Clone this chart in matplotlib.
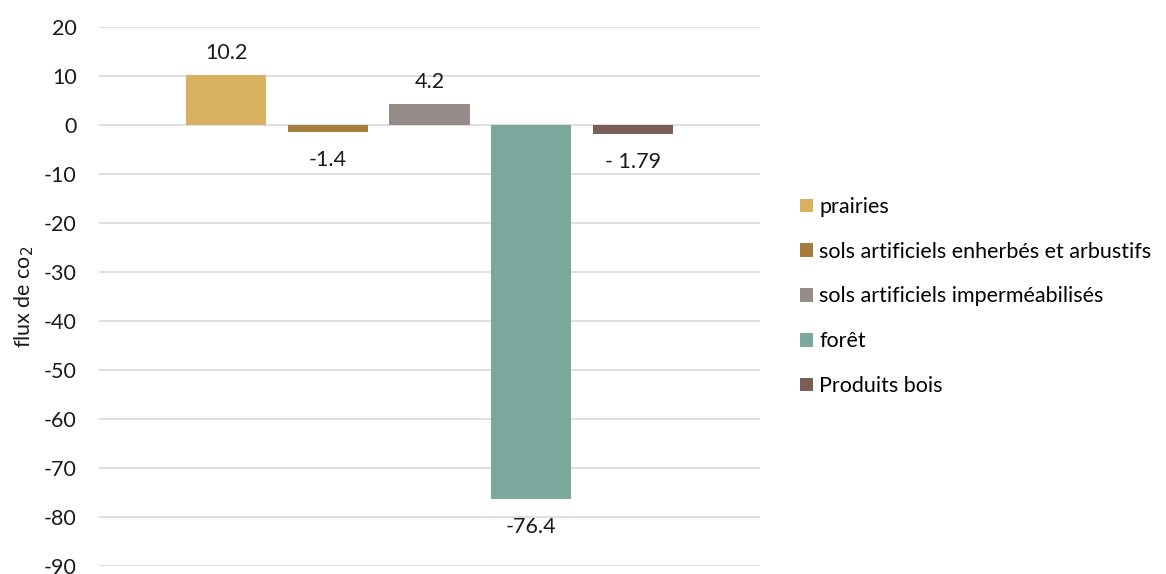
import matplotlib.pyplot as plt

categories = ['prairies', 'sols artificiels enherbés et arbustifs',
              'sols artificiels imperméabilisés', 'forêt', 'Produits bois']
values = [10.2, -1.4, 4.2, -76.4, -1.79]
value_labels = ['10.2', '-1.4', '4.2', '-76.4', '- 1.79']
colors = ['#D8B15E', '#A47D3A', '#968B88', '#7BA89C', '#7A5E55']
yticks = list(range(20, -100, -10))

plt.rcParams['font.family'] = ['Lato', 'DejaVu Sans']
fs = 15.5
txt = '#1a1a1a'

fig = plt.figure(figsize=(11.66, 5.74), dpi=100)
ax = fig.add_axes([0.0849, 0.0139, 0.5669, 0.9391])

for i, (cat, v, c) in enumerate(zip(categories, values, colors)):
    ax.bar(i, v, width=0.79, color=c, label=cat, zorder=3)
    if v >= 0:
        ax.annotate(value_labels[i], (i, v), xytext=(0, 9), textcoords='offset points',
                    ha='center', va='bottom', fontsize=fs, color=txt)
    else:
        ax.annotate(value_labels[i], (i, v), xytext=(0, -13), textcoords='offset points',
                    ha='center', va='top', fontsize=fs, color=txt)

ax.set_xlim(-1.248, 5.248)
ax.set_ylim(-90, 20)
ax.set_yticks(yticks)
ax.set_yticklabels([str(t) for t in yticks], fontsize=fs, color=txt)
ax.set_xticks([])
ax.tick_params(axis='y', length=0, pad=16)
ax.grid(axis='y', color='#d9d9d9', linewidth=1.2, zorder=0)
for s in ax.spines.values():
    s.set_visible(False)

ax.set_ylabel('flux de co$_2$', fontsize=fs, color=txt, labelpad=6)

ax.legend(loc='center left', bbox_to_anchor=(1.031, 0.5), frameon=False, fontsize=fs,
          handlelength=0.6, handleheight=0.6, handletextpad=0.3, labelspacing=1.15)

fig.savefig('out.png', dpi=100)
